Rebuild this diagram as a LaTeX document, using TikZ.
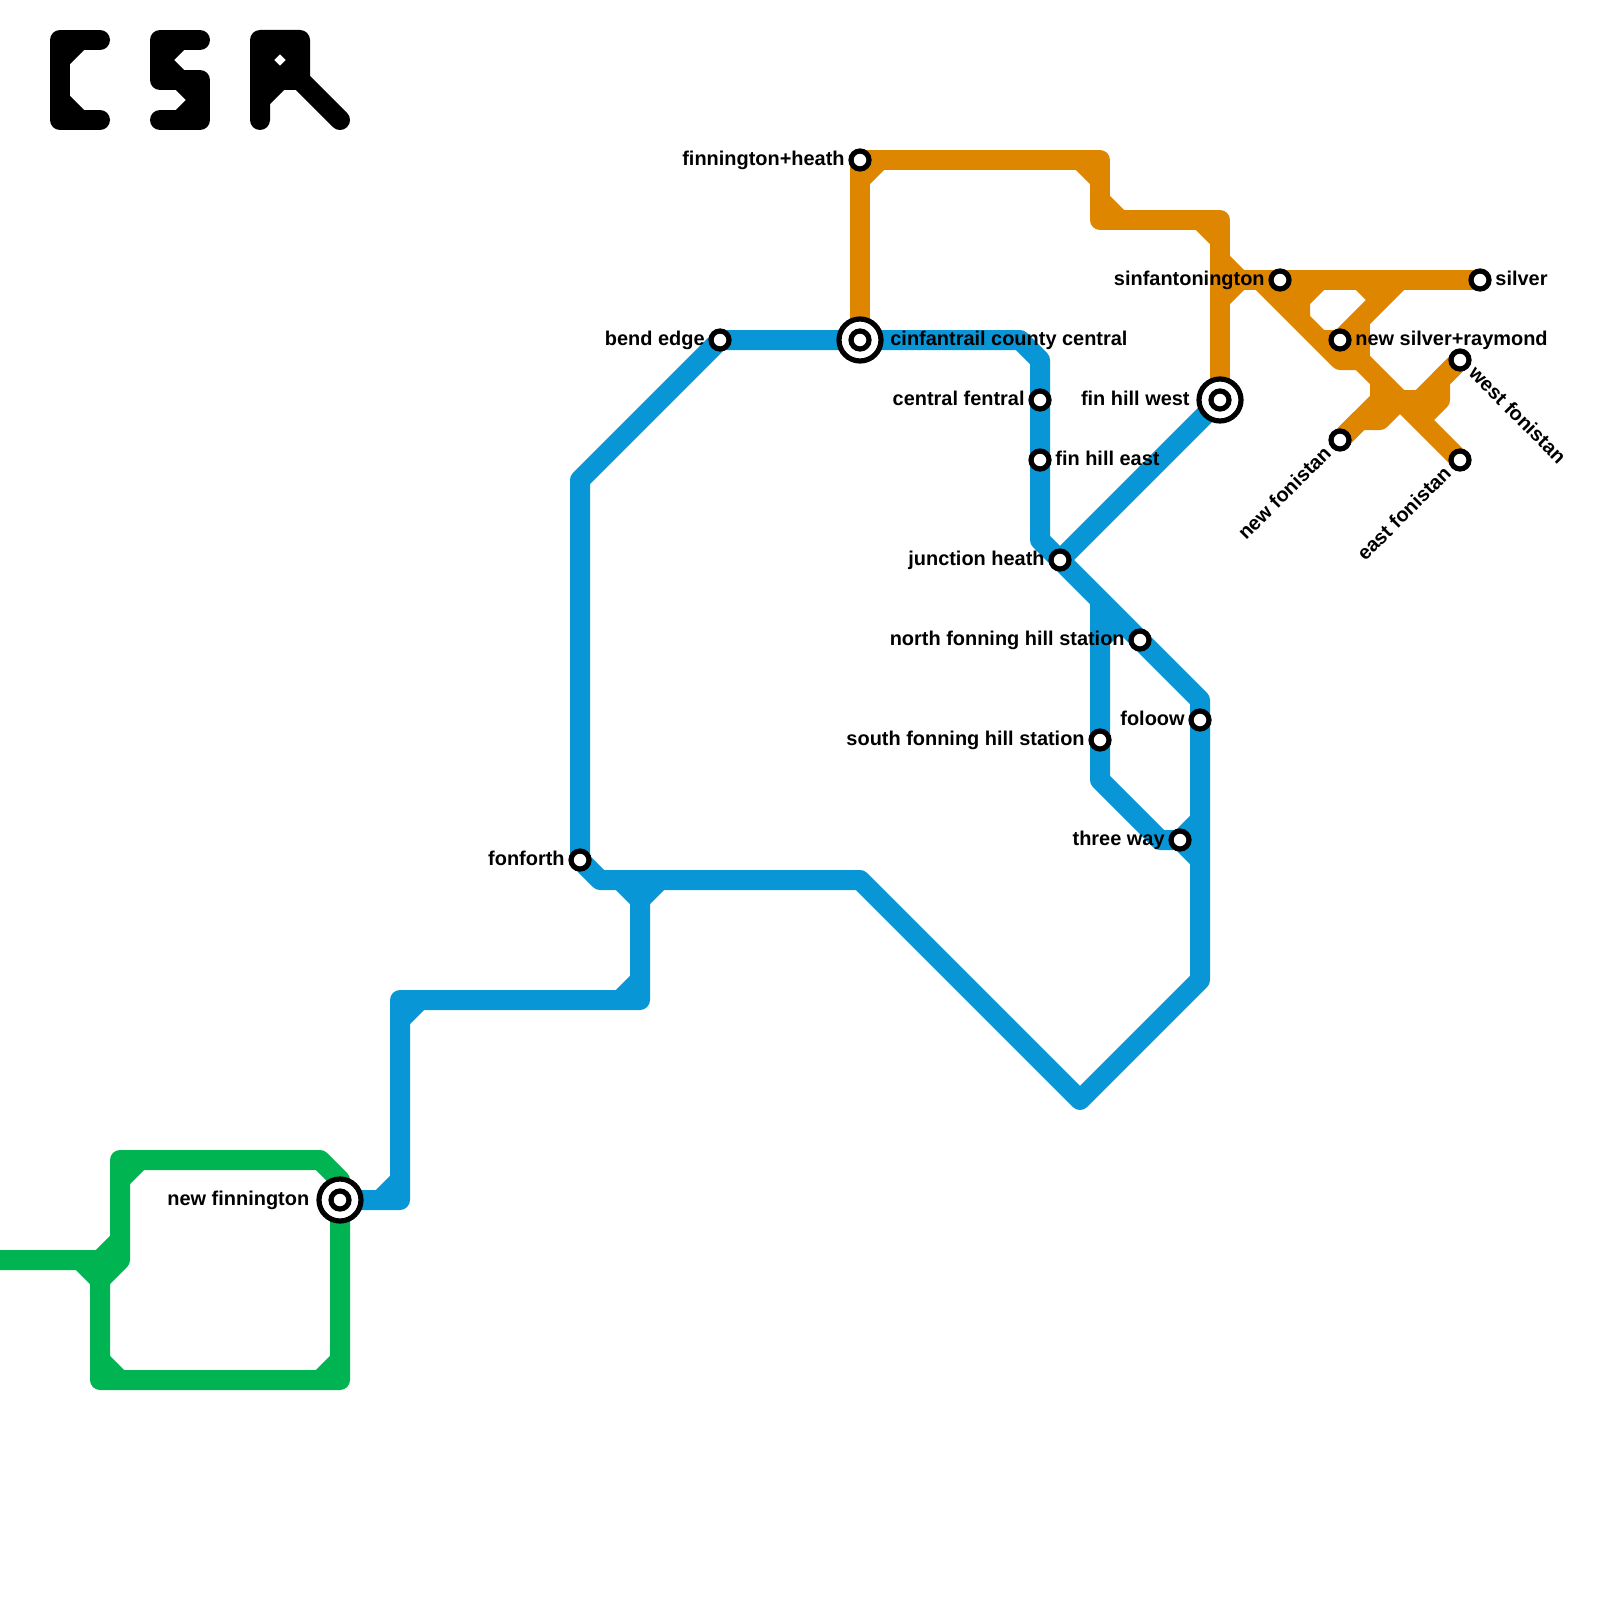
\documentclass[tikz,border=0pt]{standalone}
\usepackage{fontspec}
\setmainfont{Liberation Sans}
\usetikzlibrary{positioning,backgrounds}

\definecolor{bluemain}{HTML}{0896D7}
\definecolor{orangemain}{HTML}{DF8600}
\definecolor{greenmain}{HTML}{00B451}

\begin{document}
\begin{tikzpicture}[
  x=0.5pt, y=-0.5pt,
  blueline/.style={draw=bluemain, line width=10pt, line join=round},
  orangeline/.style={draw=orangemain, line width=10pt, line join=round},
  greenline/.style={draw=greenmain, line width=10pt, line join=round},
  logo/.style={draw=black, line width=10pt, line join=round, line cap=round},
  stop/.style={circle, draw=black, fill=white, line width=2.6pt, inner sep=0pt, minimum size=9pt},
  hubring/.style={stop, minimum size=21pt},
  lbl/.style={font=\fontsize{9.97}{11}\selectfont\bfseries, inner sep=0pt, text height=6.5pt, text depth=1.5pt}
]
\useasboundingbox (0,0) rectangle (1600,1600);

\draw[logo] (100,40) -- (60,40) -- (60,120) -- (100,120);
\draw[logo] (60,60) -- (80,40) (60,100) -- (80,120);
\draw[logo] (200,40) -- (160,40) -- (160,80) -- (200,80) -- (200,120) -- (160,120);
\draw[logo] (180,40) -- (160,60) -- (180,80) -- (200,100) -- (180,120);
\draw[logo] (260,120) -- (260,40) -- (300,40) -- (300,80) -- (340,120);
\draw[logo] (300,80) -- (260,80);
\draw[logo] (260,60) -- (280,40) -- (300,60) -- (280,80) -- (260,60);
\draw[logo] (260,100) -- (280,80);

\foreach \n/\x/\y in {
  ga/0/1260, gb/80/1260, gc/100/1280, gd/100/1380, ge/340/1380, gf/120/1260,
  gg/120/1160, gh/320/1160, gi/340/1180, gj/100/1260,
  ba/400/1200, bb/400/1000, bc/640/1000, bd/640/880, be/600/880, bf/580/480,
  bg/1020/340, bh/1040/360, bi/1040/540, bj/1200/700, bk/1200/980, bl/1080/1100,
  bm/860/880, bn/1100/600, bo/1100/780, bp/1160/840, bq/1200/820, br/1200/860,
  oa/1100/160, ob/1100/220, oc/1220/220, od/1400/280, oe/1360/320, of/1360/360,
  og/1260/280, oh/1340/360, oi/1380/380, oj/1380/400, ok/1360/420, ol/1380/420,
  om/1400/400, on/1420/400, oo/1440/380, op/1440/400, oq/1420/420, or/1220/280,
  os/1300/320, ot/1300/300, ou/1320/280, ov/1320/340, ow/1360/280, ox/1380/300,
  oy/1360/340, oz/1280/300
} \coordinate (\n) at (\x,\y);

\node[stop] (finheath) at (860,160) {};
\node[stop] (bendedge) at (720,340) {};
\node[hubring] (cinfant) at (860,340) {};
\node[stop] (cinfantin) at (cinfant) {};
\node[stop] (fentral) at (1040,400) {};
\node[stop] (hilleast) at (1040,460) {};
\node[stop] (junction) at (1060,560) {};
\node[stop] (northfon) at (1140,640) {};
\node[stop] (southfon) at (1100,740) {};
\node[stop] (foloow) at (1200,720) {};
\node[stop] (threeway) at (1180,840) {};
\node[stop] (fonforth) at (580,860) {};
\node[hubring] (newfin) at (340,1200) {};
\node[stop] (newfinin) at (newfin) {};
\node[hubring] (hillwest) at (1220,400) {};
\node[stop] (hillwestin) at (hillwest) {};
\node[stop] (sinfant) at (1280,280) {};
\node[stop] (silver) at (1480,280) {};
\node[stop] (newsilver) at (1340,340) {};
\node[stop] (westfon) at (1460,360) {};
\node[stop] (newfon) at (1340,440) {};
\node[stop] (eastfon) at (1460,460) {};

\node[lbl, left=1.7pt of finheath] (lfinheath) {finnington+heath};
\node[lbl, left=1.7pt of bendedge] (lbendedge) {bend edge};
\node[lbl, right=3.2pt of cinfant] (lcinfant) {cinfantrail county central};
\node[lbl, left=1.7pt of fentral] (lfentral) {central fentral};
\node[lbl, right=1.7pt of hilleast] (lhilleast) {fin hill east};
\node[lbl, left=1.7pt of junction] (ljunction) {junction heath};
\node[lbl, left=1.7pt of northfon] (lnorthfon) {north fonning hill station};
\node[lbl, left=1.7pt of southfon] (lsouthfon) {south fonning hill station};
\node[lbl, left=1.7pt of foloow] (lfoloow) {foloow};
\node[lbl, left=1.7pt of threeway] (lthreeway) {three way};
\node[lbl, left=1.7pt of fonforth] (lfonforth) {fonforth};
\node[lbl, left=3.4pt of newfin] (lnewfin) {new finnington};
\node[lbl, left=3.2pt of hillwest] (lhillwest) {fin hill west};
\node[lbl, left=1.7pt of sinfant] (lsinfant) {sinfantonington};
\node[lbl, right=1.7pt of silver] (lsilver) {silver};
\node[lbl, right=1.7pt of newsilver] (lnewsilver) {new silver+raymond};
\node[lbl, rotate=-45, anchor=west] (lwestfon) at ([shift={(11,11)}]westfon.center) {west fonistan};
\node[lbl, rotate=45, anchor=east] (lnewfon) at ([shift={(-11,11)}]newfon.center) {new fonistan};
\node[lbl, rotate=45, anchor=east] (leastfon) at ([shift={(-11,11)}]eastfon.center) {east fonistan};

\begin{scope}[on background layer]
\draw[greenline] (ga) -- (gb) -- (gc) -- (gd) -- (ge) -- (newfin.center);
\draw[greenline] (gc) -- (gf) -- (gg) -- (gh) -- (gi) -- (newfin.center);
\draw[greenline] (gb) -- (gj) -- (gc);
\draw[greenline] (gj) -- ++(20,-20);
\draw[greenline] (gg) ++(0,20) -- ++(20,-20);
\draw[greenline] (gd) ++(0,-20) -- ++(20,20);
\draw[greenline] (ge) ++(-20,0) -- ++(20,-20);

\draw[blueline] (newfin.center) -- (ba) -- (bb) -- (bc) -- (bd) -- (be) -- (fonforth.center) -- (bf)
  -- (bendedge.center) -- (bg) -- (bh) -- (bi) -- (junction.center) -- (bj) -- (bk) -- (bl) -- (bm) -- (bd);
\draw[blueline] (junction.center) -- (hillwest.center);
\draw[blueline] (bn) -- (bo) -- (bp) -- (threeway.center) -- (bq);
\draw[blueline] (threeway.center) -- (br);
\draw[blueline] (ba) ++(-20,0) -- ++(20,-20);
\draw[blueline] (bb) ++(0,20) -- ++(20,-20);
\draw[blueline] (bc) ++(-20,0) -- ++(20,-20);
\draw[blueline] (bd) ++(-20,0) -- ++(20,20) -- ++(20,-20);
\draw[blueline] (bn) ++(0,40) -- ++(20,-20);

\draw[orangeline] (cinfant.center) -- (finheath.center) -- (oa) -- (ob) -- (oc) -- (hillwest.center);
\draw[orangeline] (finheath.center) ++(0,20) -- ++(20,-20);
\draw[orangeline] (oa) ++(-20,0) -- ++(20,20);
\draw[orangeline] (ob) ++(0,-20) -- ++(20,20);
\draw[orangeline] (oc) ++(-20,0) -- ++(20,20);
\draw[orangeline] (or) -- (silver.center);
\draw[orangeline] (or) ++(0,-20) -- ++(20,20) -- ++(-20,20);
\draw[orangeline] (og) -- (oh) -- (of) -- (eastfon.center);
\draw[orangeline] (newsilver.center) -- (od);
\draw[orangeline] (oe) -- (of);
\draw[orangeline] (newfon.center) -- (ok) -- (ol) -- (om) -- (on) -- (westfon.center);
\draw[orangeline] (westfon.center) -- (oo) -- (op) -- (oq);
\draw[orangeline] (oi) -- (oj) -- (newfon.center);
\draw[orangeline] (os) -- (ot) -- (ou);
\draw[orangeline] (oz) -- (ot);
\draw[orangeline] (ov) -- (oy);
\draw[orangeline] (ow) -- (ox);
\end{scope}

\end{tikzpicture}
\end{document}
